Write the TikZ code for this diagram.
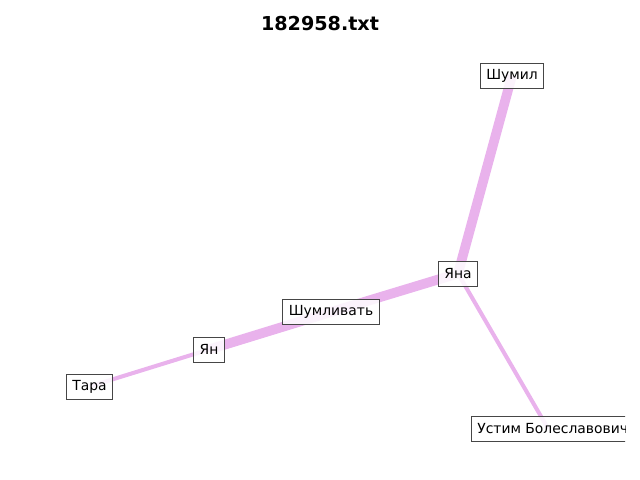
\documentclass[tikz,border=0pt]{standalone}
\usepackage{fontspec}
\setmainfont{DejaVu Sans}
\definecolor{edgecol}{RGB}{233,178,236}
\definecolor{framecol}{RGB}{70,70,70}
\begin{document}
\begin{tikzpicture}[x=0.72pt,y=-0.72pt,
  lbl/.style={draw=framecol,line width=0.7pt,fill=white,fill opacity=0.85,text opacity=1,
    font=\fontsize{10}{12}\selectfont,inner xsep=4.2pt,inner ysep=0pt,minimum height=18pt},
  heavy/.style={draw=edgecol,line width=7pt},
  light/.style={draw=edgecol,line width=2.9pt}]
\useasboundingbox (0,0) rectangle (640,480);
\clip (0,0) rectangle (625,480);
\node[font=\bfseries\fontsize{13.8}{16}\selectfont] (title) at (320,24) {182958.txt};
\coordinate (cA) at (512,75.5);
\coordinate (cB) at (458,273.5);
\coordinate (cC) at (331,312);
\coordinate (cD) at (209,349.5);
\coordinate (cE) at (89.5,386.5);
\coordinate (cF) at (548,428.5);
\draw[heavy] (cA) -- (cB);
\draw[heavy] (cB) -- (cC);
\draw[heavy] (cC) -- (cD);
\draw[light] (cD) -- (cE);
\draw[light] (cB) -- (cF);
\node[lbl] (a) at (cA) {Шумил};
\node[lbl] (b) at (cB) {Яна};
\node[lbl] (c) at (cC) {Шумливать};
\node[lbl] (d) at (cD) {Ян};
\node[lbl] (e) at (cE) {Тара};
\node[lbl,anchor=west] (f) at (471,428.5) {Устим Болеславович};
\end{tikzpicture}
\end{document}
